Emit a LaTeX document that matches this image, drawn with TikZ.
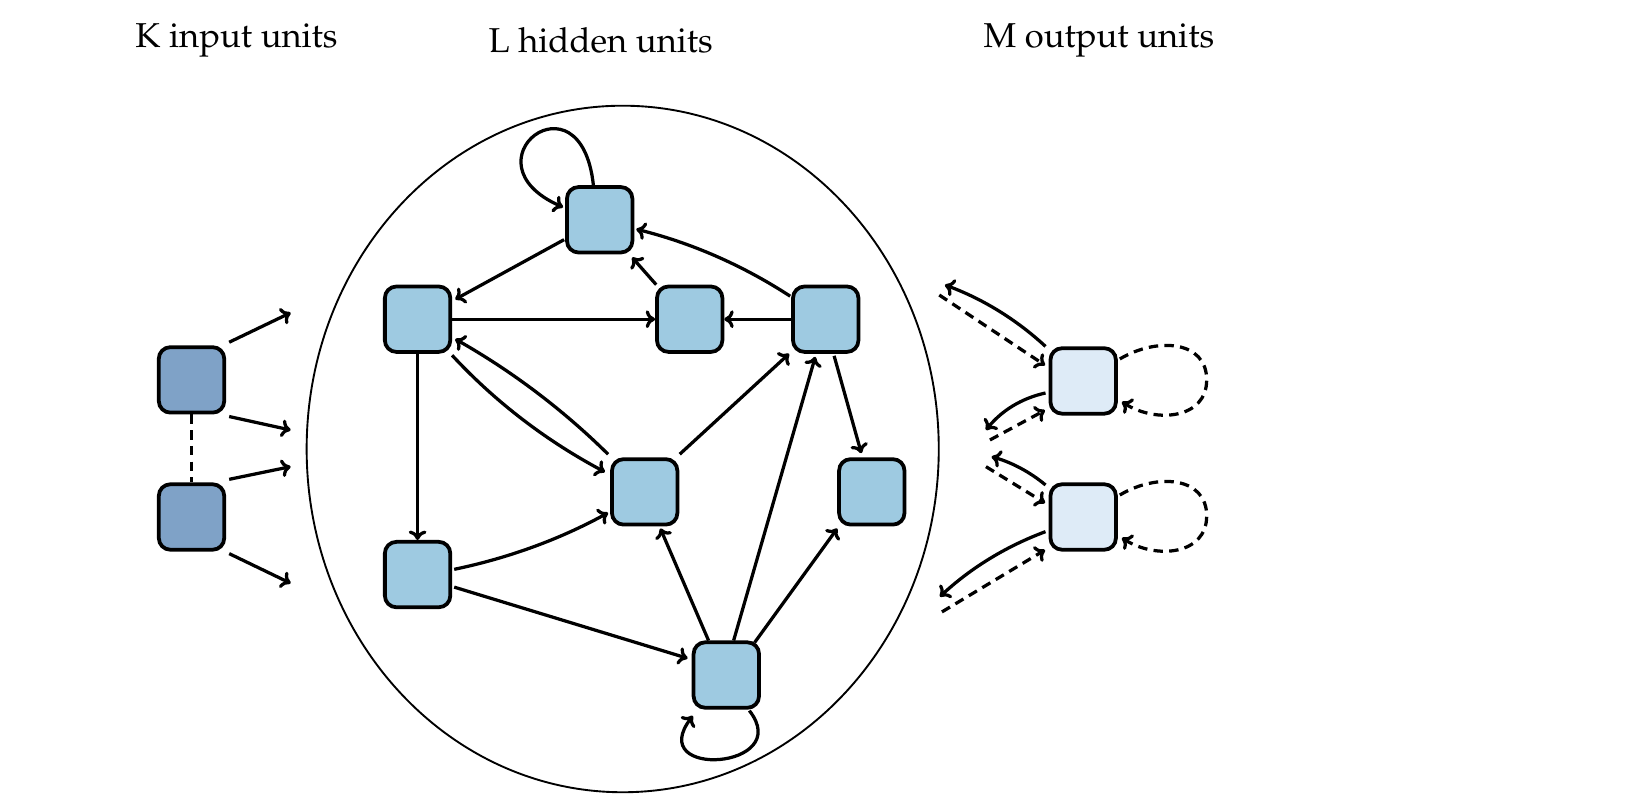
\documentclass[tikz,border=0pt]{standalone}
\usepackage[T1]{fontenc}
\renewcommand{\rmdefault}{ppl}
\usetikzlibrary{calc,arrows.meta}
\definecolor{incol}{RGB}{127,162,199}
\definecolor{hidcol}{HTML}{9ECAE1}
\definecolor{outcol}{HTML}{DEEBF7}
\begin{document}
\begin{tikzpicture}[x=1pt,y=-1pt,
  unit/.style={draw=black, line width=3.6pt, rounded corners=11pt, minimum size=62.5pt, inner sep=0pt},
  inunit/.style={unit, fill=incol},
  hidunit/.style={unit, fill=hidcol},
  outunit/.style={unit, fill=outcol},
  conn/.style={line width=3.1pt, -{Computer Modern Rightarrow[length=9pt,width=17pt]}},
  dconn/.style={conn, dash pattern=on 9pt off 6pt},
  title/.style={font=\fontsize{33}{40}\selectfont, anchor=base, inner sep=0pt}]

\useasboundingbox (0,0) rectangle (1568,773);
\fill[white] (0,0) rectangle (1568,773);

% titles
\node[title] (tk) at (226,45) {K input units};
\node[title] (tl) at (574,50) {L hidden units};
\node[title] (tm) at (1050,45) {M output units};

% container
\draw[line width=1.8pt] (595,429) ellipse [x radius=302, y radius=328];

% units
\node[inunit] (i1) at (183,363) {};
\node[inunit] (i2) at (183,494) {};
\node[hidunit] (A) at (573,210) {};
\node[hidunit] (B) at (399,305) {};
\node[hidunit] (C) at (659,305) {};
\node[hidunit] (D) at (789,305) {};
\node[hidunit] (E) at (616,470) {};
\node[hidunit] (F) at (833,470) {};
\node[hidunit] (G) at (399,549) {};
\node[hidunit] (H) at (694,645) {};
\node[outunit] (o1) at (1035,364) {};
\node[outunit] (o2) at (1035,494) {};

% free ends
\coordinate (t1) at (277.7,298.8);
\coordinate (t2) at (277.7,410.9);
\coordinate (t3) at (277.7,445.9);
\coordinate (t4) at (277.7,557.3);
\coordinate (f1) at (902.9,272.3);
\coordinate (f2) at (897.5,281.9);
\coordinate (f3) at (942.1,410.9);
\coordinate (f4) at (945.9,420.4);
\coordinate (f5) at (947.5,436.4);
\coordinate (f6) at (942.1,445.9);
\coordinate (f7) at (898.1,570.1);
\coordinate (f8) at (900,584.7);

% input connectors
\draw[line width=3.1pt, dash pattern=on 9pt off 6pt] (i1.south) -- (i2.north);
\draw[conn] ($(i1)+(36,-36)$) -- (t1);
\draw[conn] ($(i1)+(36,35)$) -- (t2);
\draw[conn] ($(i2)+(36,-36)$) -- (t3);
\draw[conn] ($(i2)+(36,35)$) -- (t4);

% hidden connectors
\draw[conn] ($(A)+(-6,-33)$) .. controls ($(A)+(-18,-145)$) and ($(A)+(-133,-55)$) .. ($(A)+(-35,-12)$);
\draw[conn] ($(H)+(22,34)$) .. controls ($(H)+(66,90)$) and ($(H)+(-79,100)$) .. ($(H)+(-32,39)$);
\draw[conn] ($(A)+(-34,19)$) -- ($(B)+(36,-19)$);
\draw[conn] (B.east) -- (C.west);
\draw[conn] (D.west) -- (C.east);
\draw[conn] ($(C)+(-32,-33)$) -- ($(A)+(31,36)$);
\draw[conn] ($(D)+(-34,-22)$) .. controls (709,253) and (660,232) .. ($(A)+(35,9)$);
\draw[conn] ($(B)+(33,34.5)$) .. controls (474.3,385.1) and (522.9,421.7) .. ($(E)+(-38,-19)$);
\draw[conn] ($(E)+(-35,-36)$) .. controls (537.5,391) and (488.7,354.4) .. ($(B)+(36,19)$);
\draw[conn] (B.south) -- (G.north);
\draw[conn] ($(E)+(33.5,-36)$) -- ($(D)+(-35,33)$);
\draw[conn] ($(H)+(7,-33)$) -- ($(D)+(-10,36)$);
\draw[conn] ($(H)+(-17,-33)$) -- ($(E)+(15,35)$);
\draw[conn] ($(H)+(27,-31)$) -- ($(F)+(-33,35)$);
\draw[conn] ($(D)+(8,35)$) -- ($(F)+(-10,-37)$);
\draw[conn] ($(G)+(35,-5)$) .. controls (485.6,533.3) and (534.9,515.3) .. ($(E)+(-35,20)$);
\draw[conn] ($(G)+(35,12)$) -- ($(H)+(-37,-16)$);

% output connectors
\draw[conn] ($(o1)+(-36,-33)$) .. controls (971.1,305.2) and (939,285.6) .. (f1);
\draw[dconn] (f2) -- ($(o1)+(-36.5,-15)$);
\draw[conn] ($(o1)+(-36,11.5)$) .. controls (976.1,380.5) and (957,392.3) .. (f3);
\draw[dconn] (f4) -- ($(o1)+(-36.5,28)$);
\draw[conn] ($(o2)+(-36,-30.6)$) .. controls (983.9,450.8) and (966.6,441.8) .. (f5);
\draw[dconn] (f6) -- ($(o2)+(-36.5,-13.4)$);
\draw[conn] ($(o2)+(-36,14)$) .. controls (961.4,521.9) and (927.7,542.6) .. (f7);
\draw[dconn] (f8) -- ($(o2)+(-36.5,31.5)$);

% output self loops
\draw[dconn] ($(o1)+(35,-21)$) .. controls ($(o1)+(70,-42)$) and ($(o1)+(118,-39)$) .. ($(o1)+(118,-1)$)
  .. controls ($(o1)+(118,36)$) and ($(o1)+(70,41)$) .. ($(o1)+(37,20)$);
\draw[dconn] ($(o2)+(35,-21)$) .. controls ($(o2)+(70,-42)$) and ($(o2)+(118,-39)$) .. ($(o2)+(118,-1)$)
  .. controls ($(o2)+(118,36)$) and ($(o2)+(70,41)$) .. ($(o2)+(37,20)$);
\end{tikzpicture}
\end{document}
